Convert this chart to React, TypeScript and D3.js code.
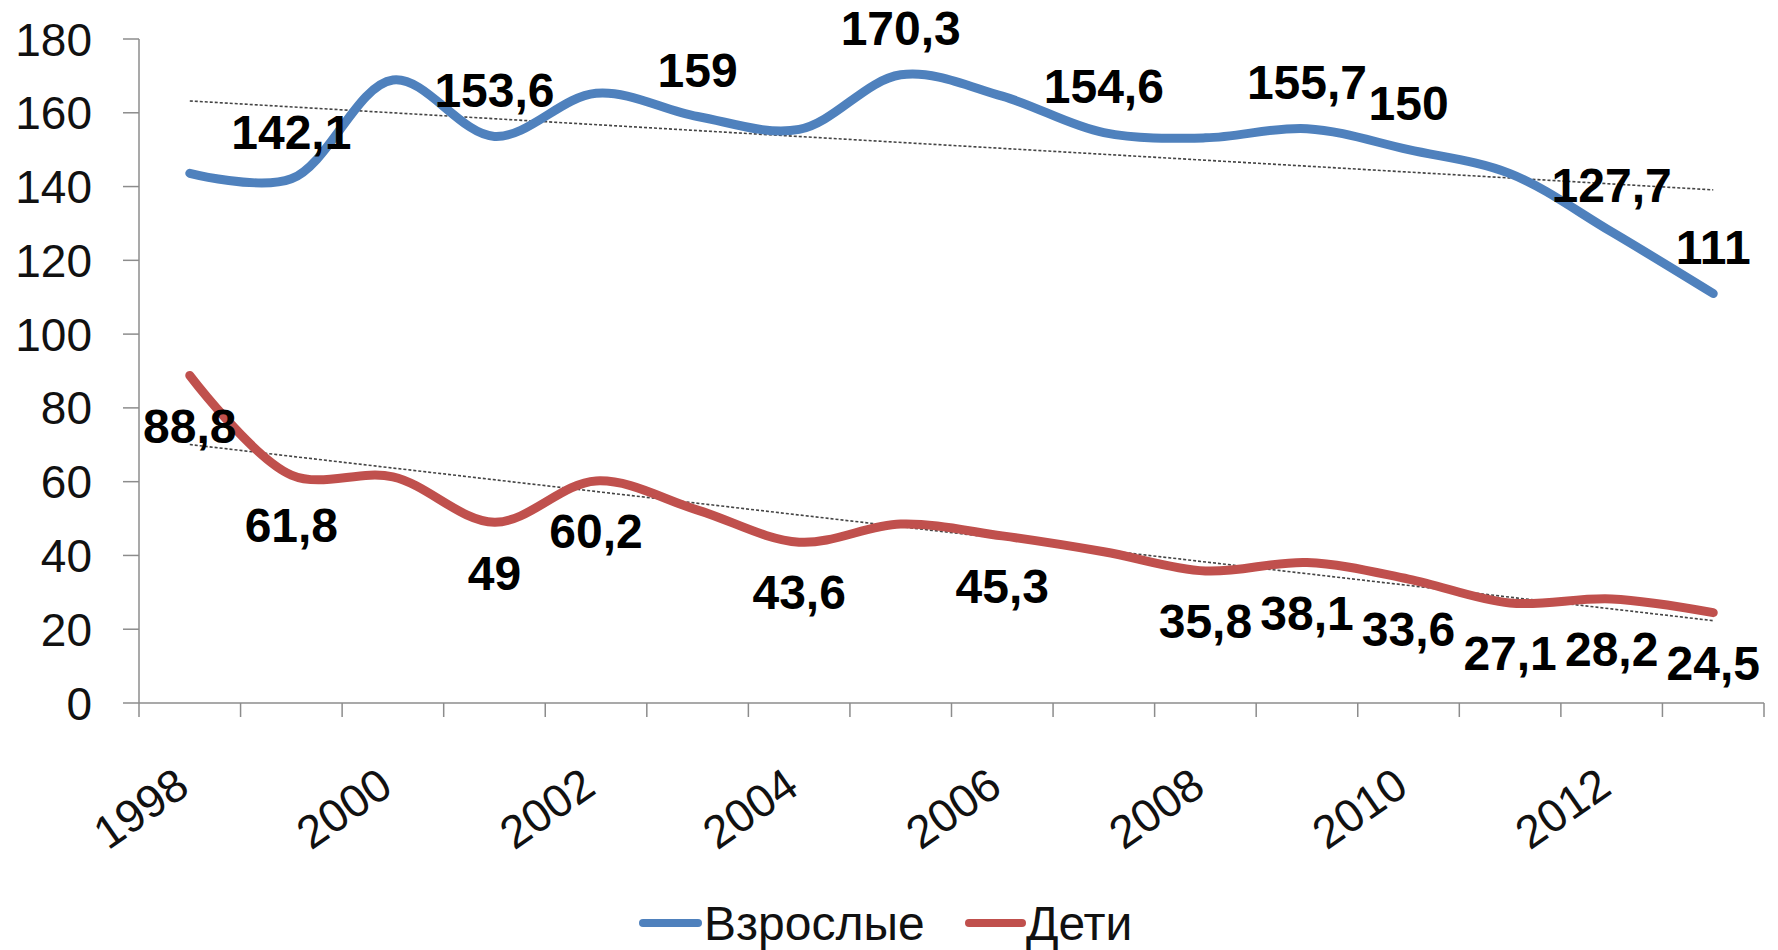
import React from "react";
import * as d3 from "d3";

const years = [1998, 1999, 2000, 2001, 2002, 2003, 2004, 2005, 2006, 2007, 2008, 2009, 2010, 2011, 2012, 2013];
const adults = [143.6, 142.1, 168.9, 153.6, 165.3, 159, 155.5, 170.3, 164.5, 154.6, 153.2, 155.7, 150, 143.5, 127.7, 111];
const children = [88.8, 61.8, 61.3, 49, 60.2, 52.3, 43.6, 48.5, 45.3, 41, 35.8, 38.1, 33.6, 27.1, 28.2, 24.5];
const adultLabelYears = [1999, 2001, 2003, 2005, 2007, 2009, 2010, 2012, 2013];
const childLabelYears = [1998, 1999, 2001, 2002, 2004, 2006, 2008, 2009, 2010, 2011, 2012, 2013];
const yTicks = [0, 20, 40, 60, 80, 100, 120, 140, 160, 180];
const xLabelYears = [1998, 2000, 2002, 2004, 2006, 2008, 2010, 2012];
const seriesNames = ["Взрослые", "Дети"];
const colors = ["#4F81BD", "#C0504D"];

const FONT = "'Liberation Sans', Arial, sans-serif";

// least squares trend over the category index
function trend(vals: number[]) {
  const n = vals.length;
  const mx = d3.mean(d3.range(n))!;
  const my = d3.mean(vals)!;
  let sxy = 0, sxx = 0;
  vals.forEach((v, i) => { sxy += (i - mx) * (v - my); sxx += (i - mx) ** 2; });
  const b = sxy / sxx;
  return [my - b * mx, my + b * (n - 1 - mx)];
}

export default function App() {
  const width = 1778, height = 950;
  const x = d3.scaleBand<number>().domain(years).range([139, 1764]);
  const y = d3.scaleLinear().domain([0, 180]).range([703, 39]);
  const cx = (yr: number) => x(yr)! + x.bandwidth() / 2;

  const line = d3.line<number>()
    .x((_, i) => cx(years[i]))
    .y(v => y(v))
    .curve(d3.curveCatmullRom.alpha(0.5));

  const series = [adults, children];
  const labelYears = [adultLabelYears, childLabelYears];
  const labelOffset = [-47, 50];

  return (
    <svg width={width} height={height} style={{ position: "absolute", left: 0, top: 0, background: "#fff" }}
      fontFamily={FONT}>
      {/* axes */}
      <line x1={139} x2={139} y1={y(180)} y2={y(0)} stroke="#8c8c8c" strokeWidth={1.5} />
      <line x1={139} x2={1764} y1={y(0)} y2={y(0)} stroke="#8c8c8c" strokeWidth={1.5} />
      {yTicks.map(t => (
        <g key={t}>
          <line x1={123} x2={139} y1={y(t)} y2={y(t)} stroke="#8c8c8c" strokeWidth={1.5} />
          <text x={92} y={y(t)} dy="0.36em" textAnchor="end" fontSize={46} fill="#111">{t}</text>
        </g>
      ))}
      {years.concat([0]).map((yr, i) => {
        const tx = i < years.length ? x(yr)! : 1764;
        return <line key={i} x1={tx} x2={tx} y1={y(0)} y2={y(0) + 14} stroke="#8c8c8c" strokeWidth={1.5} />;
      })}
      {xLabelYears.map(yr => (
        <text key={yr} transform={`translate(${cx(yr) + 2},${792}) rotate(-35)`} textAnchor="end"
          fontSize={46} fill="#111">{yr}</text>
      ))}

      {/* trend lines */}
      {series.map((vals, si) => {
        const [a, b] = trend(vals);
        return <line key={"t" + si} x1={cx(years[0])} x2={cx(years[years.length - 1])} y1={y(a)} y2={y(b)}
          stroke="#444" strokeWidth={1.6} strokeDasharray="3,2" />;
      })}

      {/* series */}
      {series.map((vals, si) => (
        <path key={"s" + si} d={line(vals)!} fill="none" stroke={colors[si]} strokeWidth={9}
          strokeLinecap="round" strokeLinejoin="round" />
      ))}

      {/* data labels */}
      {series.map((vals, si) => labelYears[si].map(yr => {
        const v = vals[years.indexOf(yr)];
        return (
          <text key={si + "-" + yr} x={cx(yr)} y={y(v) + labelOffset[si]} dy="0.36em" textAnchor="middle"
            fontSize={48} fontWeight="bold" fill="#000">{String(v).replace(".", ",")}</text>
        );
      }))}

      {/* legend */}
      <line x1={643} x2={698} y1={923} y2={923} stroke={colors[0]} strokeWidth={8} strokeLinecap="round" />
      <text x={704} y={923} dy="0.36em" fontSize={48} fill="#111">{seriesNames[0]}</text>
      <line x1={969} x2={1022} y1={923} y2={923} stroke={colors[1]} strokeWidth={8} strokeLinecap="round" />
      <text x={1026} y={923} dy="0.36em" fontSize={48} fill="#111">{seriesNames[1]}</text>
    </svg>
  );
}
